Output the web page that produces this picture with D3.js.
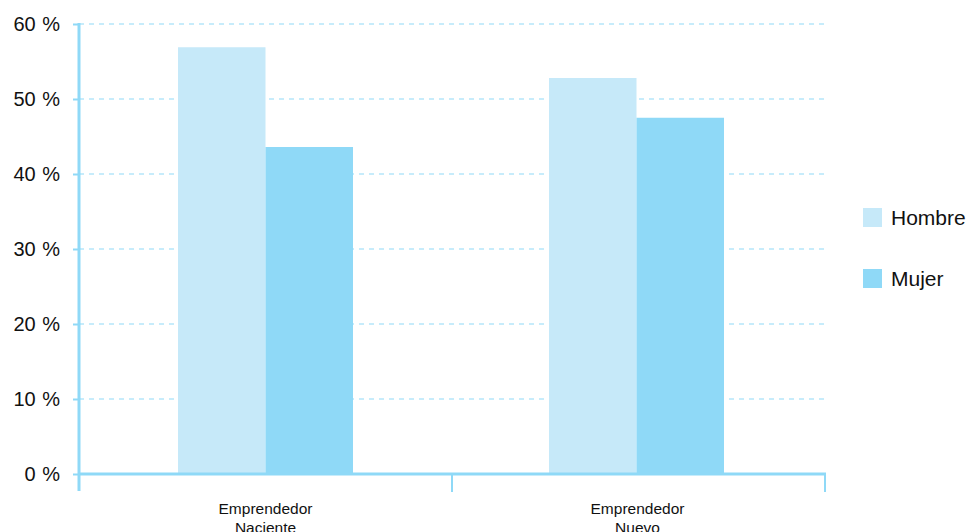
<!DOCTYPE html>
<html><head><meta charset="utf-8">
<script src="https://cdn.jsdelivr.net/npm/d3@7"></script>
<style>body{margin:0;background:#fff;font-family:"Liberation Sans",Arial,Helvetica,sans-serif;}</style>
</head><body><svg id="c" width="967" height="532"></svg>
<script>
const categories = [["Emprendedor","Naciente"],["Emprendedor","Nuevo"]];
const seriesNames = ["Hombre","Mujer"];
const hombre = [56.9, 52.8];
const mujer = [43.6, 47.5];
const yTicks = [0,10,20,30,40,50,60];
const colors = ["#c6e9f9","#8fd9f7"];
const axisColor = "#8fd9f7";

const svg = d3.select("#c");
const x0 = 79, x1 = 825, yTop = 24, yBot = 474;
const x = d3.scaleBand().domain([0,1]).range([x0,x1]);
const y = d3.scaleLinear().domain([0,60]).range([yBot,yTop]);
const inner = d3.scaleBand().domain([0,1]).range([0,175]);
const centers = [265.5, 636.5];

// gridlines
svg.append("g").selectAll("line").data(yTicks.filter(d=>d>0)).join("line")
  .attr("x1",x0).attr("x2",x1).attr("y1",d=>y(d)).attr("y2",d=>y(d))
  .attr("stroke",axisColor).attr("stroke-width",1).attr("stroke-dasharray","5,5");

// bars
const series = [hombre, mujer];
series.forEach((vals,si)=>{
  svg.append("g").selectAll("rect").data(vals).join("rect")
    .attr("x",(d,i)=>x(i)+x.bandwidth()/2-87.5-(i?2:0)+inner(si))
    .attr("width",inner.bandwidth())
    .attr("y",d=>y(d)).attr("height",d=>yBot-y(d))
    .attr("fill",colors[si]);
});

// y axis
const ya = svg.append("g").attr("transform",`translate(${x0},0)`)
  .call(d3.axisLeft(y).tickValues(yTicks).tickSize(6).tickFormat(d=>d+" %"));
ya.select(".domain").remove();
ya.selectAll(".tick line").attr("stroke",axisColor).attr("stroke-width",2);
ya.selectAll(".tick text").attr("x",-19).attr("font-size",20).attr("fill","#111")
  .attr("word-spacing",1)
  .attr("font-family","Liberation Sans, Arial, sans-serif");
svg.append("line").attr("x1",x0).attr("x2",x0).attr("y1",yTop-1).attr("y2",491)
  .attr("stroke",axisColor).attr("stroke-width",3);

// x axis
svg.append("line").attr("x1",x0).attr("x2",x1+1).attr("y1",yBot).attr("y2",yBot)
  .attr("stroke",axisColor).attr("stroke-width",3);
svg.append("g").selectAll("line").data([1,2]).join("line")
  .attr("x1",d=>d<2?x(d):x1).attr("x2",d=>d<2?x(d):x1)
  .attr("y1",yBot).attr("y2",492).attr("stroke",axisColor).attr("stroke-width",2);

svg.append("g").selectAll("text").data(categories).join("text")
  .attr("x",(d,i)=>x(i)+x.bandwidth()/2-(i?1:0)).attr("y",514)
  .attr("text-anchor","middle").attr("font-size",15.5).attr("fill","#111")
  .each(function(d){
    const t=d3.select(this);
    d.forEach((s,k)=>t.append("tspan").attr("x",t.attr("x")).attr("dy",k?19:0).text(s));
  });

// legend
const lg = svg.append("g");
seriesNames.forEach((n,i)=>{
  lg.append("rect").attr("x",863).attr("y",208+i*61).attr("width",19).attr("height",19).attr("fill",colors[i]);
  lg.append("text").attr("x",891).attr("y",217.5+i*61).attr("dy","0.35em")
    .attr("font-size",21).attr("fill","#111").text(n);
});
</script></body></html>
